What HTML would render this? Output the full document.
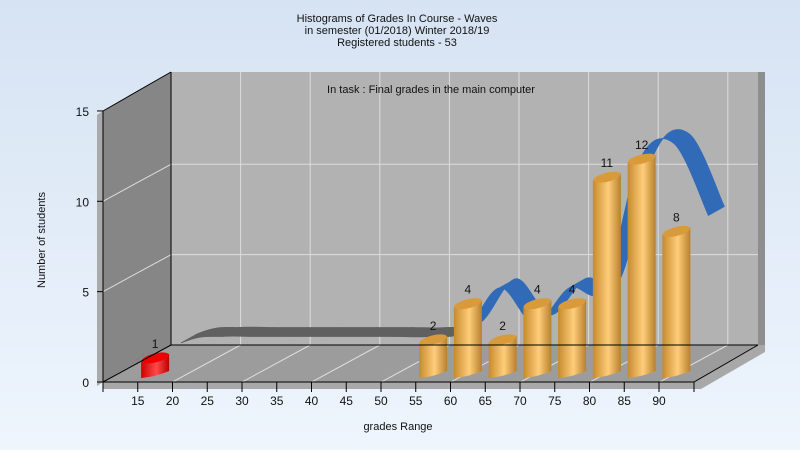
<!DOCTYPE html>
<html><head><meta charset="utf-8"><style>
html,body{margin:0;padding:0;width:800px;height:450px;overflow:hidden}
body{background:linear-gradient(#d6e3f3,#eef5fd);font-family:"Liberation Sans",sans-serif}
svg text{font-family:"Liberation Sans",sans-serif;font-size:12px;fill:#111}
svg .sm{font-size:11px}
</style></head><body>
<svg id="c" width="800" height="450" xmlns="http://www.w3.org/2000/svg">
<defs>
<linearGradient id="og" x1="0" x2="1"><stop offset="0" stop-color="#c68a2e"/><stop offset="0.55" stop-color="#ffcd7a"/><stop offset="1" stop-color="#b8802c"/></linearGradient>
<linearGradient id="rg" x1="0" x2="1"><stop offset="0" stop-color="#c00"/><stop offset="0.55" stop-color="#ff4a4a"/><stop offset="1" stop-color="#b00"/></linearGradient>
</defs>
<g text-anchor="middle">
<text class="sm" x="397" y="22">Histograms of Grades  In Course - Waves</text>
<text class="sm" x="397" y="34">in semester  (01/2018) Winter 2018/19</text>
<text class="sm" x="397" y="46">Registered students - 53</text>
</g>
<polygon points="171,72 765,72 765,345 758,352 171,352" fill="#8e8e8e"/>
<polygon points="171,72 758,72 758,345 171,345" fill="#b2b2b2"/>
<polygon points="97,115 103,111 171,72 171,345 103,382 97,386" fill="#aaa"/>
<polygon points="103,111 171,72 171,345 103,382" fill="#868686"/>
<polygon points="103,382 171,345 758,345 694,382" fill="#9c9c9c"/>
<polygon points="103,382 694,382 758,345 765,345 765,352 701,389 103,389" fill="#a8a8a8"/>
<g id="grid"></g>
<text class="sm" x="431" y="93" text-anchor="middle">In task : Final grades in the main computer</text>
<g id="ribbon"></g>
<g id="bars"></g>
<g id="axes"></g>
<text class="sm" x="0" y="0" transform="translate(45,240) rotate(-90)" text-anchor="middle">Number of students</text>
<text class="sm" x="398" y="430" text-anchor="middle">grades Range</text>
</svg>
<script>
const categories=[15,20,25,30,35,40,45,50,55,60,65,70,75,80,85,90];
const values=[1,0,0,0,0,0,0,0,2,4,2,4,4,11,12,8];
const ribbonValues=[1,1.3,1.3,1.3,1.3,1.3,1.3,1.3,1.6,4,2,4,4,11,12,8];
const xTicks=[15,20,25,30,35,40,45,50,55,60,65,70,75,80,85,90];
const yTicks=[0,5,10,15];
const NS="http://www.w3.org/2000/svg";
const X0=103,STEP=34.75,Y0=382,YS=18.07,DX=68,DY=-37;
function xs(i){return X0+STEP*(i+1.5);}
function ys(v){return Y0-YS*v;}
function mk(t,a,p){const e=document.createElementNS(NS,t);for(const k in a)e.setAttribute(k,a[k]);p.appendChild(e);return e;}
const grid=document.getElementById('grid'),axes=document.getElementById('axes'),bars=document.getElementById('bars'),rib=document.getElementById('ribbon');
for(let k=1;k<=8;k++){const x=171+69.6*k;const l=mk('line',{x1:x,y1:72,x2:x,y2:345,stroke:'#ddd','stroke-width':1},grid);


const f=mk('line',{x1:x,y1:345,x2:x-DX,y2:382,stroke:'#ddd','stroke-width':1},grid);

}
yTicks.forEach(v=>{if(v===0||v===15)return;const y=ys(v);
const l=mk('line',{x1:103,y1:y,x2:171,y2:y+DY,stroke:'#ddd'},grid);


const b=mk('line',{x1:171,y1:y+DY,x2:758,y2:y+DY,stroke:'#ddd'},grid);

});
mk('line',{x1:103,y1:111,x2:103,y2:382,stroke:'#000'},axes);
mk('line',{x1:103,y1:382,x2:694,y2:382,stroke:'#000'},axes);
mk('line',{x1:103,y1:382,x2:171,y2:345,stroke:'#000'},axes);
mk('line',{x1:171,y1:345,x2:171,y2:72,stroke:'#000'},axes);
mk('line',{x1:171,y1:345,x2:758,y2:345,stroke:'#000'},axes);
mk('line',{x1:103,y1:111,x2:171,y2:72,stroke:'#000'},axes);
mk('line',{x1:694,y1:382,x2:758,y2:345,stroke:'#000'},axes);
mk('line',{x1:694,y1:382,x2:694,y2:392,stroke:'#000'},axes);
mk('line',{x1:103,y1:382,x2:103,y2:392,stroke:'#000'},axes);
yTicks.forEach(v=>{const y=ys(v);mk('line',{x1:97,y1:y,x2:103,y2:y,stroke:'#000'},axes);
const t=mk('text',{x:89,y:y+5,'text-anchor':'end'},axes);t.textContent=v;

});
xTicks.forEach((v,i)=>{const x=X0+STEP*(i+1);mk('line',{x1:x,y1:382,x2:x,y2:392,stroke:'#000'},axes);
const t=mk('text',{x:x,y:405,'text-anchor':'middle'},axes);t.textContent=v;

});
const RX=32,RY=-22,RW=16,RH=-9;
const pts=ribbonValues.map((v,i)=>[xs(i)+RX,ys(v)+RY]);
function seg(i){const p0=pts[Math.max(i-1,0)],p1=pts[i],p2=pts[i+1],p3=pts[Math.min(i+2,pts.length-1)];
const c1=[p1[0]+(p2[0]-p0[0])/6,p1[1]+(p2[1]-p0[1])/6],c2=[p2[0]-(p3[0]-p1[0])/6,p2[1]-(p3[1]-p1[1])/6];return [p1,c1,c2,p2];}
for(let i=0;i<pts.length-1;i++){let [a,b,c,d]=seg(i);
if(i===0){a=[181,343];b=[200,335];c=[d[0]-15,d[1]];}
const dstr=`M${a[0]},${a[1]} C${b[0]},${b[1]} ${c[0]},${c[1]} ${d[0]},${d[1]} L${d[0]+RW},${d[1]+RH} C${c[0]+RW},${c[1]+RH} ${b[0]+RW},${b[1]+RH} ${a[0]+RW},${a[1]+RH} Z`;
const zero=values[i+1]===0||(values[i]===0&&i<8);
const p=mk('path',{d:dstr,fill:zero?'#606060':'#316bb8',stroke:zero?'#606060':'#316bb8','stroke-width':0.8},rib);

}
values.forEach((v,i)=>{if(v<=0)return;const cx=xs(i),w=14,by=376,ty=by-YS*v,red=i===0;
const g=mk('g',{},bars);


mk('path',{d:`M${cx-w},${ty+3} L${cx-w},${by+2} Q${cx},${by+1} ${cx+w},${by-5} L${cx+w},${ty-4} Z`,fill:red?'url(#rg)':'url(#og)'},g);
mk('ellipse',{cx:cx,cy:ty,rx:w,ry:4.5,transform:`rotate(-14 ${cx} ${ty})`,fill:red?'#e00':'#d89a3a'},g);
const t=mk('text',{x:cx,y:ty-10,'text-anchor':'middle'},g);t.textContent=v;

});
</script>
</body></html>
